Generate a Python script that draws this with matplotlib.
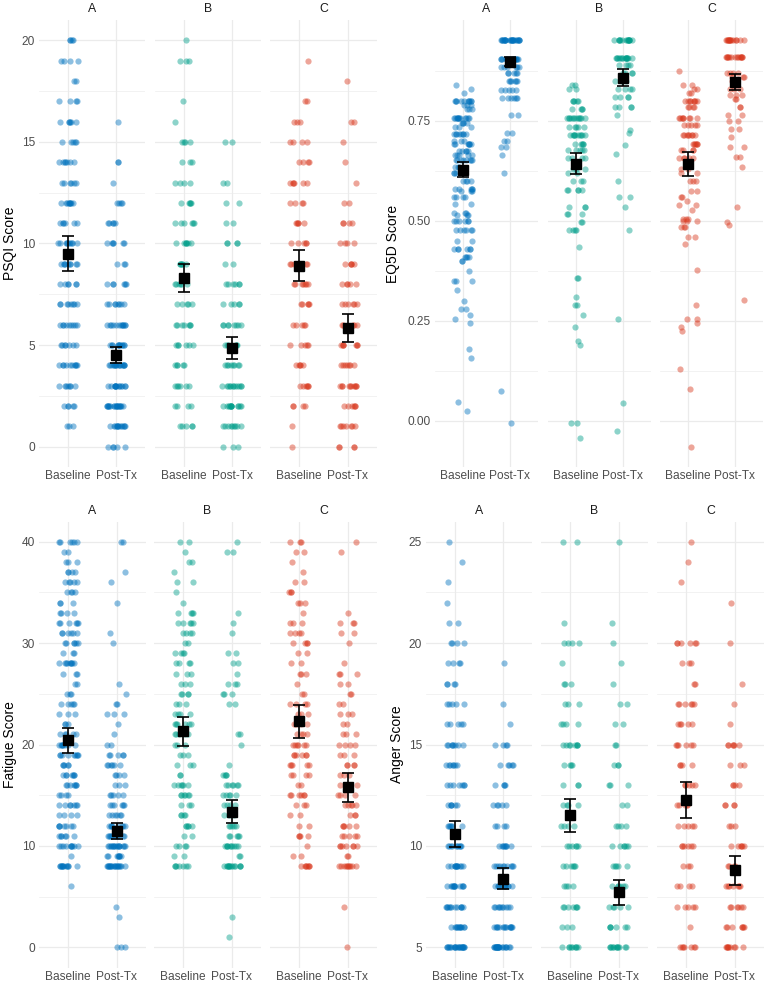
import numpy as np
import matplotlib
matplotlib.use("Agg")
import matplotlib.pyplot as plt
from matplotlib.ticker import FixedLocator

plt.rcParams['font.family'] = ['Liberation Sans', 'DejaVu Sans']

groups = ["A", "B", "C"]
times = ["Baseline", "Post-Tx"]
group_colors = ["#0072BD", "#009E8A", "#D9381E"]

# ---------------- PSQI (counts per score 0..20) ----------------
psqi_levels = list(range(0, 21))
psqi_A_base = [0,3,5,7,10,7,9,8,6,9,10,6,9,6,7,5,6,4,2,4,4]
psqi_A_post = [5,13,18,14,16,12,12,8,6,3,6,5,4,1,2,0,1,0,0,0,0]
psqi_B_base = [0,5,4,6,5,6,7,5,6,6,7,6,5,4,3,4,1,1,0,3,1]
psqi_B_post = [3,9,13,12,8,6,8,5,6,2,4,2,2,2,0,2,0,0,0,0,0]
psqi_C_base = [1,1,4,6,5,5,5,5,7,6,5,5,4,6,4,4,3,2,0,1,0]
psqi_C_post = [4,7,6,10,7,7,5,6,5,5,4,4,2,1,1,1,2,0,1,0,0]
psqi_means = [[9.50, 4.52], [8.29, 4.85], [8.91, 5.83]]
psqi_ci = [[0.85, 0.41], [0.68, 0.53], [0.78, 0.70]]

# ---------------- EQ5D (values with counts) ----------------
eq5d_A_base_vals = [0.84,0.83,0.82,0.80,0.79,0.78,0.756,0.745,0.735,0.716,0.70,0.693,
                    0.675,0.665,0.653,0.635,0.62,0.60,0.58,0.575,0.56,0.543,0.52,0.515,
                    0.50,0.477,0.45,0.43,0.41,0.40,0.373,0.348,0.327,0.30,0.28,0.264,
                    0.255,0.243,0.178,0.156,0.047,0.025]
eq5d_A_base_n = [1,1,1,10,3,3,12,4,3,8,3,7,5,5,8,3,4,4,5,3,4,2,3,3,6,6,2,6,4,2,1,3,1,1,2,1,1,1,1,1,1,1]
eq5d_A_post_vals = [0.951,0.905,0.885,0.87,0.85,0.827,0.806,0.764,0.72,0.70,0.685,0.664,0.62,0.073,-0.007]
eq5d_A_post_n = [24,15,6,5,6,5,6,2,2,2,2,1,1,1,1]
eq5d_B_base_vals = [0.84,0.83,0.80,0.78,0.756,0.735,0.714,0.693,0.677,0.656,0.63,0.62,0.60,0.577,
                    0.535,0.518,0.497,0.478,0.433,0.356,0.31,0.29,0.264,0.235,0.20,0.19,-0.007,-0.044]
eq5d_B_base_n = [2,2,5,4,12,5,10,5,5,4,3,2,3,5,3,3,2,4,1,2,1,2,1,1,1,1,2,1]
eq5d_B_post_vals = [0.951,0.908,0.89,0.87,0.85,0.83,0.81,0.785,0.764,0.727,0.72,0.69,0.668,0.60,
                    0.56,0.535,0.478,0.253,0.045,-0.026]
eq5d_B_post_n = [15,15,4,4,4,4,4,4,1,1,1,1,1,1,2,1,1,1,1,1]
eq5d_C_base_vals = [0.875,0.84,0.83,0.82,0.80,0.785,0.756,0.74,0.714,0.693,0.677,0.656,0.63,0.62,
                    0.60,0.575,0.56,0.55,0.54,0.527,0.505,0.50,0.485,0.46,0.443,0.377,0.29,0.253,
                    0.243,0.233,0.224,0.13,0.08,-0.065]
eq5d_C_base_n = [1,2,2,2,8,4,8,5,8,6,4,5,2,2,3,2,2,1,2,1,3,3,3,2,1,1,1,2,1,1,1,1,1,1]
eq5d_C_post_vals = [0.951,0.91,0.87,0.86,0.85,0.83,0.815,0.805,0.785,0.764,0.75,0.73,0.71,0.685,
                    0.66,0.635,0.535,0.497,0.49,0.302]
eq5d_C_post_n = [14,14,4,3,3,3,3,2,2,2,2,2,1,2,2,1,1,1,1,1]
eq5d_means = [[0.628, 0.898], [0.643, 0.858], [0.641, 0.848]]
eq5d_ci = [[0.018, 0.012], [0.026, 0.022], [0.030, 0.020]]

# ---------------- Fatigue (counts per score 0..40) ----------------
fatigue_levels = list(range(0, 41))
fatigue_A_base = [0,0,0,0,0,0,1,0,12,1,10,6,7,4,7,4,7,7,5,9,8,5,3,3,5,3,2,3,9,3,6,6,6,4,3,4,5,4,3,2,6]
fatigue_A_post = [3,0,0,1,1,0,0,0,18,8,16,10,8,6,6,5,3,4,6,5,2,1,1,3,2,1,1,0,0,0,1,1,0,0,1,0,1,1,0,0,2]
fatigue_B_base = [0,0,0,0,0,0,0,0,7,2,4,2,5,4,3,6,6,2,3,3,3,5,6,4,3,4,3,3,4,4,2,4,5,4,1,1,2,1,2,1,2]
fatigue_B_post = [0,1,0,1,0,0,0,0,14,2,10,5,5,3,4,5,6,4,1,0,1,2,0,0,2,3,3,1,2,2,0,1,1,1,0,0,0,0,0,2,1]
fatigue_C_base = [0,0,0,0,0,0,0,0,7,2,1,4,2,2,3,6,2,4,5,6,6,4,4,3,4,2,1,3,2,2,4,4,3,1,3,3,2,1,1,2,3]
fatigue_C_post = [1,0,0,0,1,0,0,0,10,2,7,5,5,3,5,4,3,3,4,3,4,3,2,3,2,2,2,3,1,0,1,2,3,1,0,0,0,0,0,1,1]
fatigue_means = [[20.40, 11.43], [21.30, 13.37], [22.27, 15.80]]
fatigue_ci = [[1.23, 0.79], [1.44, 1.15], [1.67, 1.43]]

# ---------------- Anger (counts per score 5..25) ----------------
anger_levels = list(range(5, 26))
anger_A_base = [22,12,12,12,12,10,6,6,7,7,8,5,5,4,4,4,2,1,1,1,1]
anger_A_post = [22,14,10,12,10,8,4,5,4,5,4,1,1,0,1,0,0,0,0,0,0]
anger_B_base = [9,3,7,4,6,6,4,4,3,4,8,4,3,3,1,4,1,0,0,0,2]
anger_B_post = [12,6,5,6,5,6,4,2,3,3,2,2,2,1,1,1,1,0,0,0,1]
anger_C_base = [7,1,5,4,3,6,5,5,5,4,6,5,6,2,3,6,0,0,1,1,1]
anger_C_post = [9,7,6,7,4,6,3,4,4,3,6,1,1,1,0,1,0,1,0,0,0]
anger_means = [[10.60, 8.39], [11.50, 7.71], [12.25, 8.80]]
anger_ci = [[0.64, 0.52], [0.80, 0.62], [0.89, 0.71]]

# ---------------------------------------------------------------
W, H = 767, 986
fig = plt.figure(figsize=(W / 100, H / 100), dpi=100)
fig.patch.set_facecolor("white")

def expand(levels, counts):
    return np.repeat(np.asarray(levels, float), np.asarray(counts, int))

def jitter_offsets(n, phase):
    # deterministic scatter of horizontal positions (hash of the point index)
    i = np.arange(n) + 1.0
    u = np.sin(i * 12.9898 + phase * 78.233) * 43758.5453
    u = u - np.floor(u)
    return (u - 0.5) * 2 * 0.2

panels = [
    dict(ylabel="PSQI Score", ylim=(-1, 21), ticks=[0, 5, 10, 15, 20],
         minor=[2.5, 7.5, 12.5, 17.5], labels=["0", "5", "10", "15", "20"],
         facets=[(39, 145), (155, 261), (270, 377)], rows=(20, 467), ylab_x=10,
         data=[[expand(psqi_levels, psqi_A_base), expand(psqi_levels, psqi_A_post)],
               [expand(psqi_levels, psqi_B_base), expand(psqi_levels, psqi_B_post)],
               [expand(psqi_levels, psqi_C_base), expand(psqi_levels, psqi_C_post)]],
         means=psqi_means, ci=psqi_ci),
    dict(ylabel="EQ5D Score", ylim=(-0.116, 1.002), ticks=[0, 0.25, 0.5, 0.75],
         minor=[0.125, 0.375, 0.625, 0.875], labels=["0.00", "0.25", "0.50", "0.75"],
         facets=[(435, 538), (548, 651), (660, 763)], rows=(20, 467), ylab_x=393,
         data=[[expand(eq5d_A_base_vals, eq5d_A_base_n), expand(eq5d_A_post_vals, eq5d_A_post_n)],
               [expand(eq5d_B_base_vals, eq5d_B_base_n), expand(eq5d_B_post_vals, eq5d_B_post_n)],
               [expand(eq5d_C_base_vals, eq5d_C_base_n), expand(eq5d_C_post_vals, eq5d_C_post_n)]],
         means=eq5d_means, ci=eq5d_ci),
    dict(ylabel="Fatigue Score", ylim=(-2, 42), ticks=[0, 10, 20, 30, 40],
         minor=[5, 15, 25, 35], labels=["0", "10", "20", "30", "40"],
         facets=[(39, 146), (154, 261), (270, 377)], rows=(521.5, 967.5), ylab_x=10,
         data=[[expand(fatigue_levels, fatigue_A_base), expand(fatigue_levels, fatigue_A_post)],
               [expand(fatigue_levels, fatigue_B_base), expand(fatigue_levels, fatigue_B_post)],
               [expand(fatigue_levels, fatigue_C_base), expand(fatigue_levels, fatigue_C_post)]],
         means=fatigue_means, ci=fatigue_ci),
    dict(ylabel="Anger Score", ylim=(4, 26), ticks=[5, 10, 15, 20, 25],
         minor=[7.5, 12.5, 17.5, 22.5], labels=["5", "10", "15", "20", "25"],
         facets=[(426, 532), (541, 648), (657, 764)], rows=(521.5, 967.5), ylab_x=397,
         data=[[expand(anger_levels, anger_A_base), expand(anger_levels, anger_A_post)],
               [expand(anger_levels, anger_B_base), expand(anger_levels, anger_B_post)],
               [expand(anger_levels, anger_C_base), expand(anger_levels, anger_C_post)]],
         means=anger_means, ci=anger_ci),
]

grid_col = "#EBEBEB"
tick_col = "#4D4D4D"

for p_i, p in enumerate(panels):
    y0, y1 = p["rows"]
    for g_i, (x0, x1) in enumerate(p["facets"]):
        ax = fig.add_axes([x0 / W, 1 - y1 / H, (x1 - x0) / W, (y1 - y0) / H])
        ax.set_facecolor("white")
        for s in ax.spines.values():
            s.set_visible(False)
        ax.set_xlim(0.4, 2.6)
        ax.set_ylim(*p["ylim"])
        ax.yaxis.set_major_locator(FixedLocator(p["ticks"]))
        ax.yaxis.set_minor_locator(FixedLocator(p["minor"]))
        ax.set_xticks([1, 2])
        ax.set_xticklabels(times)
        ax.grid(True, which="major", color=grid_col, lw=0.9, zorder=0)
        ax.grid(True, which="minor", axis="y", color=grid_col, lw=0.45, zorder=0)
        ax.set_axisbelow(True)
        ax.tick_params(axis="both", which="both", length=0)
        ax.tick_params(axis="x", pad=2.5, labelsize=8.6, labelcolor=tick_col)
        ax.tick_params(axis="y", pad=3, labelsize=8.6, labelcolor=tick_col)
        if g_i == 0:
            ax.set_yticklabels(p["labels"])
        else:
            ax.set_yticklabels([])
        col = group_colors[g_i]
        for t_i in range(2):
            vals = p["data"][g_i][t_i]
            xs = (t_i + 1) + jitter_offsets(len(vals), 1 + t_i + 2 * g_i + 6 * p_i)
            ax.scatter(xs, vals, s=20, color=col, alpha=0.45, linewidths=0, zorder=2)
            m = p["means"][g_i][t_i]
            c = p["ci"][g_i][t_i]
            ax.errorbar([t_i + 1], [m], yerr=[[c], [c]], fmt="none", ecolor="black",
                        elinewidth=1.2, capsize=4.6, capthick=1.2, zorder=3)
            ax.plot([t_i + 1], [m], marker="s", ms=6.8, color="black", zorder=4, ls="none")
        # strip label
        fig.text(((x0 + x1) / 2) / W, 1 - (y0 - 10.5) / H, groups[g_i], ha="center",
                 va="center", fontsize=8.8, color="#1A1A1A")
    fig.text(p["ylab_x"] / W, 1 - ((y0 + y1) / 2) / H, p["ylabel"], rotation=90,
             ha="center", va="center", fontsize=10, color="black")

fig.savefig("out.png", dpi=100)
